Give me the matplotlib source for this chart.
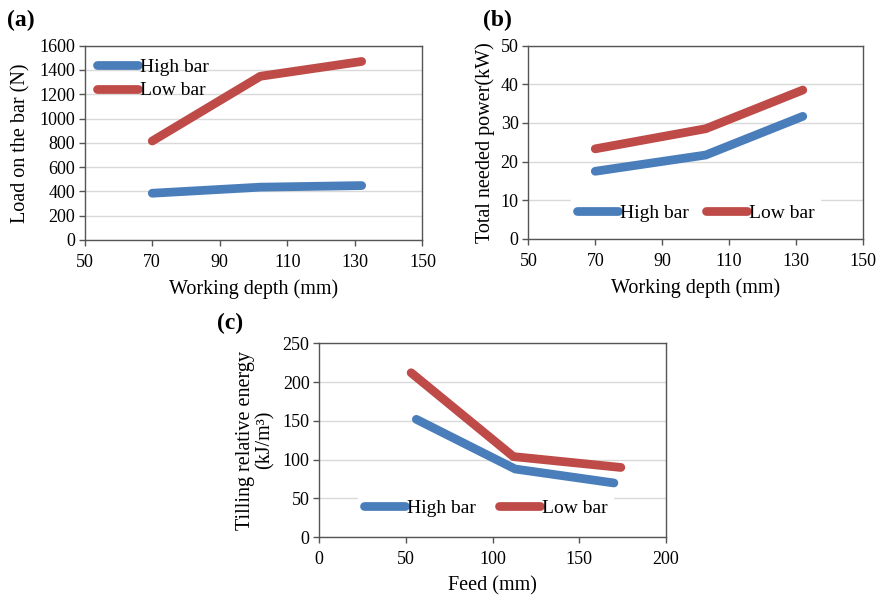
import matplotlib
matplotlib.use("Agg")
import matplotlib.pyplot as plt

# Panel (a): load on the bar vs working depth
depth_a = [70, 102, 132]
load_high = [385, 435, 448]
load_low = [815, 1348, 1470]

# Panel (b): total needed power vs working depth
depth_b = [70, 103, 132]
power_high = [17.5, 21.7, 31.7]
power_low = [23.3, 28.5, 38.5]

# Panel (c): tilling relative energy vs feed
feed_high = [56, 113, 170]
energy_high = [152, 88, 70]
feed_low = [53, 112, 174]
energy_low = [212, 104, 90]

BLUE = "#4a7ebb"
RED = "#be4b48"
LW = 6.3
TICK_FS = 13
LABEL_FS = 14.5
LEG_FS = 14

plt.rcParams["font.family"] = ["Liberation Serif", "DejaVu Serif"]

fig = plt.figure(figsize=(8.82, 5.97), dpi=100)
ax_a = fig.add_axes([0.096, 0.598, 0.383, 0.3255])
ax_b = fig.add_axes([0.599, 0.5997, 0.3795, 0.324])
ax_c = fig.add_axes([0.362, 0.100, 0.393, 0.325])


def style(ax, xlim, xticks, ylim, yticks):
    ax.set_xlim(*xlim)
    ax.set_ylim(*ylim)
    ax.set_xticks(xticks)
    ax.set_yticks(yticks)
    ax.grid(axis="y", color="#d9d9d9", linewidth=1)
    ax.set_axisbelow(True)
    for s in ax.spines.values():
        s.set_color("#555555")
        s.set_linewidth(1)
    ax.tick_params(direction="out", length=4, width=1, color="#555555",
                   labelsize=TICK_FS)
    ax.tick_params(axis="x", pad=6)
    ax.tick_params(axis="y", pad=3)


# (a)
ax_a.plot(depth_a, load_high, color=BLUE, lw=LW, solid_capstyle="round", label="High bar")
ax_a.plot(depth_a, load_low, color=RED, lw=LW, solid_capstyle="round", label="Low bar")
style(ax_a, (50, 150), range(50, 151, 20), (0, 1600), range(0, 1601, 200))
ax_a.set_xlabel("Working depth (mm)", fontsize=LABEL_FS, labelpad=6)
ax_a.set_ylabel("Load on the bar (N)", fontsize=LABEL_FS, labelpad=6)
ax_a.legend(loc="upper left", frameon=False, fontsize=LEG_FS, handlelength=2.1,
            handletextpad=0.1, labelspacing=0.3, borderaxespad=0.25)

# (b)
ax_b.plot(depth_b, power_high, color=BLUE, lw=LW, solid_capstyle="round", label="High bar")
ax_b.plot(depth_b, power_low, color=RED, lw=LW, solid_capstyle="round", label="Low bar")
style(ax_b, (50, 150), range(50, 151, 20), (0, 50), range(0, 51, 10))
ax_b.set_xlabel("Working depth (mm)", fontsize=LABEL_FS, labelpad=6)
ax_b.set_ylabel("Total needed power(kW)", fontsize=LABEL_FS, labelpad=4)
ax_b.legend(loc="center", bbox_to_anchor=(0.5, 0.134), ncol=2, fontsize=LEG_FS,
            handlelength=2.1, handletextpad=0.1, columnspacing=0.9,
            frameon=True, framealpha=1, edgecolor="white", facecolor="white",
            borderpad=0.3, fancybox=False)

# (c)
ax_c.plot(feed_high, energy_high, color=BLUE, lw=LW, solid_capstyle="round", label="High bar")
ax_c.plot(feed_low, energy_low, color=RED, lw=LW, solid_capstyle="round", label="Low bar")
style(ax_c, (0, 200), range(0, 201, 50), (0, 250), range(0, 251, 50))
ax_c.set_xlabel("Feed (mm)", fontsize=LABEL_FS, labelpad=6)
ax_c.set_ylabel("Tilling relative energy\n(kJ/m\u00b3)", fontsize=LABEL_FS, labelpad=6,
                linespacing=1.0)
ax_c.legend(loc="center", bbox_to_anchor=(0.48, 0.151), ncol=2, fontsize=LEG_FS,
            handlelength=2.1, handletextpad=0.1, columnspacing=1.2,
            frameon=True, framealpha=1, edgecolor="white", facecolor="white",
            borderpad=0.3, fancybox=False)

# panel labels
fig.text(0.008, 0.966, "(a)", fontsize=17, fontweight="bold", va="center")
fig.text(0.548, 0.966, "(b)", fontsize=17, fontweight="bold", va="center")
fig.text(0.246, 0.458, "(c)", fontsize=17, fontweight="bold", va="center")

fig.savefig("out.png", dpi=100)
